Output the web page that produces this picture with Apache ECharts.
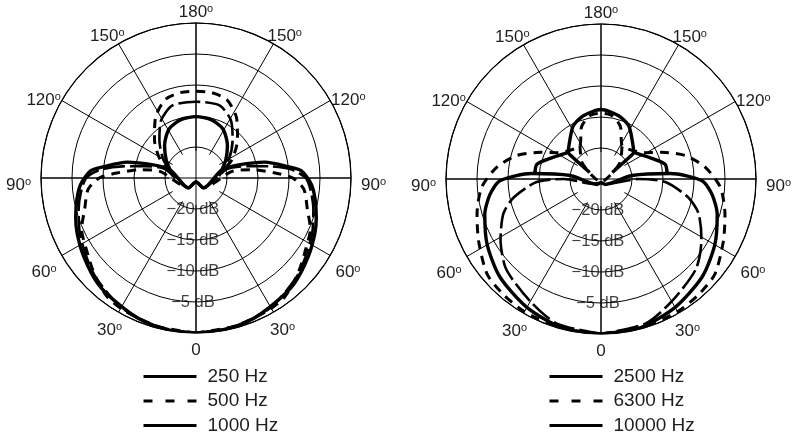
<!DOCTYPE html>
<html>
<head>
<meta charset="utf-8">
<script src="https://cdn.jsdelivr.net/npm/echarts@6/dist/echarts.min.js"></script>
<style>
html,body{margin:0;padding:0;background:#fff;}
#chart{width:800px;height:443px;}
</style>
</head>
<body>
<div id="chart"></div>
<script>
// ---- data: [angle (deg, one side), level (dB)] traced along one half of each curve ----
const seriesNamesLeft = ['250 Hz', '500 Hz', '1000 Hz'];
const seriesNamesRight = ['2500 Hz', '6300 Hz', '10000 Hz'];
const radiusTicks = [-25, -20, -15, -10, -5, 0];
const dbLabelValues = [-20, -15, -10, -5];

const l250Front = [[0,0],[10,-0.1],[21,-0.45],[32,-1.15],[43,-1.75],[55,-2.9],[65,-3.85],[72,-4.6],[80,-5.5],[87,-6.4],[94,-8.0],[97,-10.0],[103,-13.6],[107,-17.8],[108,-20.6],[37,-23],[0,-24.4]];
const l250Rear = [[95,-21.3],[108,-20.6],[121,-19.4],[136,-17.7],[151,-16.0],[165,-15.3],[180,-15.1]];
const l500Front = [[0,0],[15,-0.3],[29,-0.7],[37,-1.1],[47,-2.5],[57,-3.9],[66,-4.8],[74,-6.3],[84,-7.5],[90,-9.4],[93.6,-12.2],[98.4,-15.9],[100.4,-19.1],[37,-23],[0,-24.4]];
const l500Rear = [[104,-20.7],[117,-18.5],[132.6,-15.9],[146,-13.3],[158.6,-11.4],[169.6,-11.0],[180,-11.0]];
const l1000Front = [[0,0],[15,-0.2],[30,-0.9],[45,-2.2],[55,-3.3],[65,-4.3],[75,-5.4],[83,-6.3],[90,-7.3],[95,-9.5],[99,-13],[103,-16.5],[106,-19.8],[37,-23],[0,-24.4]];
const l1000Rear = [[103,-21.1],[119,-19],[136,-16.5],[149,-14.1],[162,-12.7],[180,-12.7]];

const r2500Front = [[0,0],[15,-0.2],[30,-1.1],[46,-2.3],[60,-3.8],[73,-5.4],[82,-6.9],[89,-8.7],[94.5,-13.8],[96.4,-20],[37,-23.9],[0,-24.4]];
const r2500Rear = [[120,-22.9],[127.5,-19.3],[129.3,-18.2],[141,-17.0],[152.6,-15.3],[164.4,-14.4],[180,-13.8]];
const r2500Shoulder = [[94.8,-14.3],[103,-14.4],[113.7,-16.4],[129.3,-18.2]];
const r6300Front = [[0,0],[15,-0.1],[30,-0.3],[40,-0.6],[50,-1.05],[63,-2.85],[74,-4.2],[86,-5.7],[96.5,-8.1],[105.6,-10.9],[113.7,-14.3],[120.8,-16.7],[132.8,-18.2],[148,-18.6],[159.6,-16],[170.2,-14.6],[180,-14.4]];
const r6300Inner = [[148,-18.6],[131.4,-20.9],[111.7,-23.4],[0,-24.5]];
const r10000Front = [[0,0],[17,-0.6],[30,-2.2],[46.5,-3.9],[59,-6.1],[70.5,-8.3],[78,-10.6],[87.3,-14.6],[90,-19],[60,-23.5],[0,-24.4]];

// ---- helpers: mirror the traced half onto the other side of the symmetric pattern ----
const GAP = ['-', '-'];
const toPolar = p => [p[1], p[0]];               // ECharts polar order: [radius, angle]
const mirror = p => [360 - p[0], p[1]];
function closedPath(half) {
  return half.concat(half.slice().reverse().map(mirror)).map(toPolar);
}
function openPath(half) {
  return half.map(toPolar).concat([GAP], half.map(mirror).map(toPolar));
}
function join() {
  let out = [];
  for (let i = 0; i < arguments.length; i++) {
    if (i > 0) out.push(GAP);
    out = out.concat(arguments[i]);
  }
  return out;
}

const FONT = '"Liberation Sans", Arial, sans-serif';
const TXT = '#1e1e1e';
const R_OUT = 155;

function sideValue(v) { return v <= 180 ? v : 360 - v; }
function angleFormatter(group) {
  return function (v) {
    const d = sideValue(v);
    if (group.indexOf(d) < 0) return '';
    if (d === 0) return '{n|0}';
    return '{n|' + d + '}{s|o}';
  };
}
const labelRich = {
  n: { fontSize: 17, fontFamily: FONT, color: TXT, lineHeight: 18 },
  s: { fontSize: 11, fontFamily: FONT, color: TXT, lineHeight: 11, verticalAlign: 'top' }
};

// angle-label groups, each drawn by its own label-only polar so its distance from the rim can differ
const labelGroups = [
  { vals: [150], margin: -12, dy: -9 },
  { vals: [180], margin: 2, dy: 0 },
  { vals: [120], margin: 1, dy: 9 },
  { vals: [90], margin: 10, dy: 7 },
  { vals: [60], margin: 6, dy: 5 },
  { vals: [0, 30], margin: -7, dy: 15 }
];

function hiddenRadius(idx) {
  return {
    polarIndex: idx, type: 'value', min: -25, max: 0, interval: 5,
    axisLine: { show: false }, axisTick: { show: false },
    splitLine: { show: false }, axisLabel: { show: false }
  };
}

function polarSet(base, cx, cy) {
  const polar = [{ center: [cx, cy], radius: [0, R_OUT] }, { center: [cx, cy], radius: [27, R_OUT] }];
  const angleAxis = [
    {
      polarIndex: base, type: 'value', min: 0, max: 360, interval: 90,
      startAngle: 270, clockwise: true,
      axisLine: { show: true, lineStyle: { color: '#000', width: 1.2 } },
      axisTick: { show: false }, axisLabel: { show: false },
      splitLine: { show: true, lineStyle: { color: '#000', width: 1 } }
    },
    {
      polarIndex: base + 1, type: 'value', min: 0, max: 360, interval: 30,
      startAngle: 270, clockwise: true,
      axisLine: { show: false }, axisTick: { show: false }, axisLabel: { show: false },
      splitLine: { show: true, lineStyle: { color: '#000', width: 1 } }
    }
  ];
  const radiusAxis = [
    {
      polarIndex: base, type: 'value', min: radiusTicks[0], max: radiusTicks[radiusTicks.length - 1], interval: 5,
      axisLine: { show: false }, axisTick: { show: false }, axisLabel: { show: false },
      splitLine: { show: true, lineStyle: { color: '#000', width: 1 } }
    },
    hiddenRadius(base + 1)
  ];
  labelGroups.forEach((g, k) => {
    const idx = base + 2 + k;
    polar.push({ center: [cx, cy + g.dy], radius: [0, R_OUT] });
    angleAxis.push({
      polarIndex: idx, type: 'value', min: 0, max: 360, interval: 30,
      startAngle: 270, clockwise: true,
      axisLine: { show: false }, axisTick: { show: false }, splitLine: { show: false },
      axisLabel: { show: true, margin: g.margin, formatter: angleFormatter(g.vals), rich: labelRich }
    });
    radiusAxis.push(hiddenRadius(idx));
  });
  return { polar, angleAxis, radiusAxis };
}

const PER = 2 + labelGroups.length;   // polars per chart
const L = polarSet(0, 196, 178);
const R = polarSet(PER, 601, 179);

const solidThick = { color: '#000', width: 3.4, type: 'solid' };
const dashed = { color: '#000', width: 3, type: [9, 7] };
const longDash = { color: '#000', width: 2.6, type: [22, 5] };

function lineSeries(name, polarIndex, data, style) {
  return {
    name: name, type: 'line', coordinateSystem: 'polar', polarIndex: polarIndex,
    data: data, symbol: 'none', smooth: 0.25, connectNulls: false,
    lineStyle: style, itemStyle: { color: '#000' }, silent: true, animation: false
  };
}

// ring value labels placed on the 0° spoke through the polar scale
function dbLabelSeries(polarIndex) {
  return {
    type: 'scatter', coordinateSystem: 'polar', polarIndex: polarIndex,
    data: dbLabelValues.map(v => [v, 0]),
    symbol: 'circle', symbolSize: 1, itemStyle: { color: 'rgba(0,0,0,0)' },
    silent: true, animation: false, z: 5,
    label: {
      show: true, position: 'inside', offset: [-3, 0],
      fontSize: 16.5, fontFamily: FONT, color: '#111',
      formatter: p => '{t|\u2212' + Math.abs(p.value[0]) + ' dB}',
      rich: { t: { fontSize: 16.5, fontFamily: FONT, color: '#111' } }
    }
  };
}

const series = [
  lineSeries('250 Hz', 0, join(closedPath(l250Front), closedPath(l250Rear)), solidThick),
  lineSeries('500 Hz', 0, join(closedPath(l500Front), closedPath(l500Rear)), dashed),
  lineSeries('1000 Hz', 0, join(closedPath(l1000Front), closedPath(l1000Rear)), longDash),
  lineSeries('2500 Hz', PER, join(closedPath(r2500Front), closedPath(r2500Rear), openPath(r2500Shoulder)), solidThick),
  lineSeries('6300 Hz', PER, join(closedPath(r6300Front), closedPath(r6300Inner)), dashed),
  lineSeries('10000 Hz', PER, closedPath(r10000Front), longDash),
  dbLabelSeries(0),
  dbLabelSeries(PER)
];

const legendLineStyles = [
  { type: 'solid', width: 3, color: '#000' },
  { type: [9, 13], width: 3, color: '#000' },
  { type: 'solid', width: 3, color: '#000' }
];
function legendFor(names, left) {
  return {
    orient: 'vertical', left: left, top: 367, padding: 0,
    itemWidth: 53, itemHeight: 14, itemGap: 5.5,
    selectedMode: false,
    itemStyle: { opacity: 0 },
    textStyle: { fontSize: 19, fontFamily: FONT, color: TXT, padding: [0, 0, 0, 6] },
    data: names.map((n, i) => ({ name: n, lineStyle: legendLineStyles[i] }))
  };
}

const option = {
  backgroundColor: '#fff',
  animation: false,
  textStyle: { fontFamily: FONT, color: TXT },
  polar: L.polar.concat(R.polar),
  angleAxis: L.angleAxis.concat(R.angleAxis),
  radiusAxis: L.radiusAxis.concat(R.radiusAxis),
  legend: [legendFor(seriesNamesLeft, 142), legendFor(seriesNamesRight, 548)],
  series: series
};

const chart = echarts.init(document.getElementById('chart'), null, { renderer: 'canvas' });
chart.setOption(option);
</script>
</body>
</html>
